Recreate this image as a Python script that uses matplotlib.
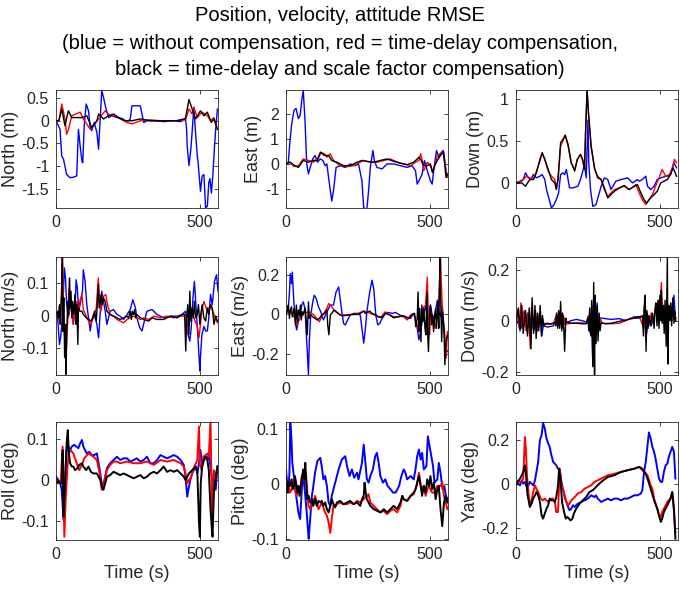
import numpy as np
import matplotlib
matplotlib.use("Agg")
import matplotlib.pyplot as plt
from matplotlib.ticker import FormatStrFormatter

plt.rcParams['font.family'] = ['Liberation Sans', 'DejaVu Sans']
plt.rcParams['axes.unicode_minus'] = False

# ---- data (time s, value) ----
north_pos_blue = [(0,0),(14,-0.19),(20,-0.78),(26,-0.85),(31,-1.0),(37,-1.19),(49,-1.26),(60,-1.25),(72,-1.22),
    (78,-0.19),(84,-0.56),(90,-0.89),(93,-0.93),(98,-0.11),(105,0.37),(113,0.22),(119,-0.15),(124,-0.22),(133,-0.04),
    (142,-0.26),(148,-0.63),(151,-0.26),(159,0.67),(165,0.52),(174,0.26),(183,0.07),(194,0.11),(212,0.07),(229,0.05),
    (241,0.0),(252,0.0),(258,0.04),(264,0.33),(293,0.33),(305,-0.04),(316,0.0),(340,0.0),(374,-0.02),(409,0.0),
    (433,-0.02),(450,0.04),(454,-0.19),(456,-0.56),(462,-0.99),(468,-0.67),(473,-0.26),(479,0.3),(485,-0.26),
    (491,-0.78),(494,-0.93),(502,-1.56),(508,-1.22),(514,-1.19),(520,-1.93),(526,-1.89),(531,-1.37),(535,-1.28),
    (540,-1.6),(545,-1.22),(551,-0.56),(555,-0.19),(561,0.26)]
north_pos_red = [(0,0),(10,0.0),(20,0.37),(31,0.05),(37,-0.3),(43,-0.2),(55,0.11),(84,0.19),(95,0.04),(119,-0.19),
    (130,-0.11),(148,0.04),(171,0.22),(188,0.11),(206,0.11),(223,0.04),(247,-0.04),(264,-0.07),(293,0.0),(328,0.02),
    (363,0.0),(409,0.0),(450,0.02),(462,0.26),(473,0.15),(479,0.3),(491,0.07),(508,0.19),(526,0.11),(537,0.0),
    (549,0.07),(561,-0.19)]
north_pos_black = [(0,0),(10,0.0),(20,0.26),(31,-0.11),(43,0.22),(55,0.07),(72,0.07),(90,0.07),(107,0.11),
    (124,-0.15),(142,0.0),(148,0.15),(165,0.04),(183,0.11),(200,0.15),(217,0.07),(241,0.0),(264,0.0),(293,0.04),
    (328,0.0),(374,0.0),(421,0.0),(450,0.05),(462,0.47),(473,0.26),(485,0.04),(502,0.22),(514,0.11),(526,0.19),
    (540,-0.04),(549,0.04),(561,-0.19)]

east_pos_blue = [(0,0),(8,0.07),(14,0.95),(20,1.62),(28,2.16),(35,2.23),(43,1.82),(49,1.95),(55,2.57),(60,2.95),
    (66,1.76),(72,0),(78,-0.4),(84,-0.14),(93,0.2),(101,0.34),(109,0.07),(119,0.2),(128,0.14),(136,-0.07),(142,0),
    (151,-0.81),(159,-1.49),(165,-1.08),(174,-0.14),(188,-0.07),(206,-0.14),(223,0),(241,-0.07),(252,0),(264,-0.68),
    (270,-1.76),(281,-1.82),(287,-1.08),(293,-0.14),(302,0.54),(307,0.14),(316,-0.14),(334,-0.2),(351,0),(374,0),
    (398,-0.07),(421,-0.14),(438,-0.07),(450,-0.27),(456,-0.81),(465,-0.61),(473,-0.41),(481,0.14),(491,-0.27),
    (502,-0.68),(508,-0.81),(514,-0.2),(523,0.54),(531,0.27),(540,0.47),(547,0.54),(552,0),(561,-0.54)]
east_pos_red = [(0,0),(14,0.07),(28,-0.11),(43,-0.07),(60,0.2),(78,0.14),(95,0.07),(109,0.2),(119,0.47),(133,0.41),
    (142,0.27),(154,0.41),(165,0.14),(188,-0.07),(212,-0.11),(235,-0.07),(258,0.07),(270,0.14),(293,0.07),(316,0.07),
    (340,0.14),(363,0.2),(386,0.07),(409,0),(433,-0.07),(450,0.07),(462,0.14),(468,0.41),(473,0.14),(479,-0.27),
    (491,0.07),(502,-0.07),(509,-0.34),(516,-0.14),(526,0.34),(535,0.41),(543,0.47),(549,0.41),(555,-0.2),(561,-0.54)]
east_pos_black = [(0,0),(14,0.07),(31,-0.07),(43,-0.14),(60,0.14),(78,0.07),(95,0.14),(109,0.14),(121,0.47),
    (133,0.34),(148,0.34),(159,0.14),(177,0.07),(200,-0.07),(223,-0.07),(247,0.07),(264,0.14),(281,0.1),(305,0.07),
    (328,0.14),(351,0.2),(374,0.11),(398,0.03),(421,-0.03),(444,0.07),(456,0.2),(462,0.27),(470,0.14),(479,-0.07),
    (491,-0.07),(502,0),(509,-0.34),(516,-0.07),(526,0.14),(537,0.34),(547,0.47),(551,0.07),(556,-0.54),(561,-0.41)]

down_pos_blue = [(0,0),(14,0.02),(25,0.04),(33,0.12),(43,0.06),(52,0.04),(60,0.1),(71,0.06),(83,0.08),(91,0.1),
    (100,0.04),(106,-0.08),(117,-0.22),(123,-0.3),(132,-0.26),(140,-0.2),(148,-0.12),(155,0.1),(163,0.12),(169,0.1),
    (175,0.16),(181,0.04),(186,-0.06),(198,-0.06),(215,-0.04),(224,0.04),(232,0.14),(238,0.22),(244,0.06),(250,0.75),
    (253,0.24),(259,-0.08),(267,-0.28),(278,-0.26),(296,-0.04),(307,0.06),(319,0.04),(330,-0.08),(347,0.02),(365,0.04),
    (388,0.06),(405,0),(422,0.04),(428,0.02),(439,0.04),(451,0.08),(457,-0.04),(468,-0.08),(480,-0.04),(491,0.04),
    (503,0.06),(520,0.08),(537,0.1),(549,0.24),(558,0.18)]
down_pos_red = [(0,0),(20,0.02),(37,0.08),(48,0.06),(60,0.04),(71,0.14),(83,0.26),(91,0.36),(100,0.28),(112,0.14),
    (123,0.08),(135,0.04),(140,-0.06),(146,0.04),(155,0.44),(163,0.5),(171,0.57),(181,0.44),(192,0.24),(204,0.16),
    (213,0.28),(224,0.34),(232,0.26),(238,0.16),(242,0.63),(247,1.11),(252,0.83),(261,0.44),(273,0.16),(284,0.08),
    (296,0.04),(307,-0.08),(319,-0.16),(330,-0.12),(342,-0.08),(359,-0.06),(376,-0.04),(393,-0.08),(411,-0.04),
    (416,-0.02),(428,-0.12),(439,-0.2),(451,-0.26),(462,-0.2),(474,-0.14),(485,-0.04),(497,0.06),(508,0.16),
    (520,0.08),(531,0.08),(543,0.18),(551,0.28),(558,0.24)]
down_pos_black = [(0,0),(20,0),(33,-0.04),(48,0.04),(60,0.04),(71,0.12),(83,0.28),(91,0.36),(100,0.28),(112,0.16),
    (123,0.04),(135,0),(140,-0.08),(146,0.04),(155,0.48),(163,0.52),(171,0.57),(181,0.46),(192,0.24),(204,0.14),
    (213,0.28),(224,0.34),(232,0.28),(238,0.16),(242,0.63),(247,1.11),(252,0.83),(261,0.44),(273,0.18),(284,0.06),
    (296,0.04),(307,-0.06),(319,-0.18),(330,-0.14),(342,-0.1),(359,-0.06),(376,-0.03),(393,-0.08),(411,-0.04),
    (422,-0.02),(434,-0.12),(445,-0.2),(454,-0.24),(468,-0.18),(480,-0.14),(491,-0.1),(503,0),(514,0.02),(526,0.04),
    (537,0.1),(546,0.18),(558,0.08)]

north_vel_blue = [(0,0.003),(5,-0.002),(8,-0.037),(12,-0.088),(16,-0.068),(20,-0.028),(23,0.023),(26,0.074),
    (29,0.145),(33,0.114),(37,0.033),(43,-0.007),(49,0.074),(55,0.013),(60,-0.027),(66,0.023),(70,0.109),(74,0.084),
    (79,0.013),(86,0.043),(92,0.074),(95,0.139),(101,0.104),(107,0.033),(113,-0.007),(119,-0.047),(124,-0.017),
    (130,0.003),(136,-0.007),(142,-0.027),(148,-0.068),(154,0.013),(159,0.074),(165,0.043),(171,0.013),(177,-0.027),
    (188,0.013),(200,0.018),(212,0.003),(223,-0.002),(235,-0.012),(247,0.003),(258,0.018),(267,0.048),(276,0.023),
    (281,-0.007),(291,-0.037),(299,-0.047),(307,-0.017),(316,0.013),(334,0.018),(351,0.003),(374,-0.007),
    (398,-0.002),(421,-0.002),(438,0.003),(450,0.013),(456,-0.027),(459,-0.058),(465,-0.078),(470,-0.037),
    (476,0.054),(481,0.104),(487,0.023),(494,-0.078),(500,-0.169),(502,-0.128),(507,-0.058),(514,-0.033),
    (520,-0.047),(526,-0.047),(531,-0.007),(537,0.064),(543,0.033),(551,0.104),(558,0.124),(563,0.074)]
north_vel_red = [(0,0.003),(8,-0.002),(14,-0.027),(20,0.074),(23,0.18),(26,0.043),(29,-0.047),(34,-0.138),
    (37,-0.088),(41,-0.007),(45,0.084),(49,0.033),(55,0.003),(60,-0.027),(66,0.023),(72,0.043),(78,0.013),(84,0.048),
    (90,0.064),(95,0.018),(105,-0.002),(113,-0.017),(121,-0.027),(130,-0.007),(140,0.023),(147,0.114),(151,0.058),
    (156,0.013),(165,0.058),(173,0.064),(179,0.033),(188,0.003),(200,-0.002),(212,-0.012),(223,-0.017),(235,-0.022),
    (247,-0.012),(258,-0.007),(270,-0.002),(281,-0.007),(293,-0.012),(305,-0.007),(322,-0.012),(340,-0.002),
    (363,-0.007),(386,-0.002),(409,-0.007),(433,-0.002),(444,-0.002),(450,-0.007),(456,-0.048),(462,-0.027),
    (468,0.003),(473,0.013),(481,-0.012),(491,-0.033),(497,-0.068),(502,-0.027),(508,0.023),(514,0.043),(526,0.013),
    (537,0.033),(549,0.003),(561,-0.022)]
north_vel_black = [(0,0.003),(5,0.013),(8,-0.007),(12,0.033),(15,-0.027),(19,0.064),(22,0.18),(24,-0.048),
    (27,0.054),(30,-0.128),(33,-0.027),(35,-0.179),(37,-0.058),(41,0.043),(44,0.003),(47,0.114),(49,0.023),(52,0.074),
    (55,-0.007),(58,0.043),(62,0.003),(66,0.064),(70,-0.027),(72,0.033),(76,-0.088),(78,0.023),(84,0.013),(90,0.013),
    (95,0.003),(105,-0.007),(113,-0.012),(121,-0.017),(128,-0.007),(134,0.013),(140,-0.017),(144,0.043),(147,0.094),
    (150,0.023),(154,0.043),(157,0.064),(160,0.033),(165,0.054),(171,0.043),(177,0.013),(188,0.003),(200,-0.002),
    (212,-0.007),(223,-0.012),(235,-0.007),(247,-0.002),(252,-0.007),(258,0.013),(262,-0.012),(265,0.013),(270,0.003),
    (273,0.018),(277,-0.007),(281,0.003),(293,-0.007),(305,-0.012),(322,-0.017),(334,-0.007),(351,-0.012),
    (374,-0.012),(398,-0.002),(421,-0.007),(438,0.003),(447,0.003),(451,-0.108),(454,-0.007),(458,0.033),(462,-0.058),
    (465,0.074),(469,-0.017),(473,0.023),(477,-0.007),(481,0.043),(485,-0.007),(491,0.003),(495,0.033),(500,-0.027),
    (503,0.003),(508,0.033),(514,-0.007),(520,-0.017),(526,0.023),(531,0.003),(537,0.033),(543,0.023),(549,-0.027),
    (555,-0.002),(561,-0.017)]

east_vel_blue = [(0,0.005),(5,0.013),(8,0.03),(12,0.113),(15,0.205),(19,0.155),(22,0.213),(26,0.097),(29,0.03),
    (34,-0.053),(37,-0.078),(43,-0.037),(49,-0.003),(55,0.047),(60,0.063),(66,0.03),(70,-0.087),(74,-0.187),
    (78,-0.303),(81,-0.137),(86,-0.003),(93,0.063),(98,0.097),(105,0.08),(113,0.038),(121,0.013),(130,-0.028),
    (142,0.013),(154,0.047),(165,0.047),(174,0.113),(183,0.138),(188,0.08),(194,0.013),(200,-0.045),(206,-0.053),
    (214,-0.028),(223,-0.003),(235,0.005),(247,0.005),(258,-0.003),(264,-0.07),(270,-0.145),(276,-0.07),(281,0.013),
    (291,0.113),(299,0.172),(305,0.13),(312,-0.003),(319,-0.053),(326,-0.045),(334,-0.02),(345,0.005),(357,0.01),
    (369,0.005),(380,0.01),(392,0),(409,-0.012),(433,-0.02),(444,0.005),(450,-0.028),(456,-0.07),(462,-0.128),
    (468,-0.087),(473,-0.037),(479,0.013),(485,0.038),(491,-0.012),(497,0.013),(502,0.047),(508,-0.003),(514,-0.02),
    (520,0.022),(526,0.072),(531,0.013),(537,-0.012),(543,0.047),(549,-0.087),(555,-0.17),(561,-0.187)]
east_vel_red = [(0,0.005),(8,0.01),(16,0.017),(23,0),(31,-0.02),(37,-0.053),(43,-0.037),(49,-0.012),(58,0.005),
    (70,0.01),(84,0.01),(95,0),(107,-0.02),(116,-0.037),(124,-0.012),(133,0.01),(142,0.03),(148,0.055),(154,0.047),
    (159,0.038),(167,0.022),(177,0.01),(188,0),(206,-0.003),(223,0),(241,0),(258,0.01),(270,0.017),(281,0.013),
    (293,0.005),(305,0),(316,-0.012),(330,-0.012),(345,0.013),(361,-0.003),(374,-0.012),(386,-0.012),(398,-0.007),
    (409,-0.012),(421,-0.028),(433,-0.003),(444,0.005),(450,-0.02),(456,-0.053),(462,-0.087),(468,-0.053),(473,0.013),
    (479,0.038),(485,0.047),(491,0.188),(494,0.03),(499,-0.103),(502,0.013),(508,-0.003),(514,-0.037),(520,-0.07),
    (526,0.013),(531,0.072),(537,0.288),(541,0.113),(545,-0.003),(551,-0.087),(557,-0.22),(561,-0.087)]
east_vel_black = [(0,0.005),(5,0.022),(8,0.047),(12,-0.02),(15,0.022),(19,0.038),(22,-0.012),(26,0.013),(29,0.03),
    (33,-0.053),(36,0.047),(40,-0.037),(43,0.022),(47,-0.003),(50,0.047),(53,-0.028),(57,0.013),(60,-0.003),
    (64,0.022),(67,0.03),(71,-0.045),(74,-0.103),(78,0.063),(81,-0.02),(86,-0.003),(93,-0.012),(101,-0.02),
    (109,-0.028),(116,-0.02),(124,-0.003),(134,0.005),(142,0.022),(145,-0.053),(149,-0.103),(154,-0.003),(159,0.005),
    (167,0.022),(177,0.01),(188,-0.003),(200,-0.007),(217,-0.003),(235,0),(252,0),(264,0.01),(270,0.017),(276,0.005),
    (281,0.01),(291,0.017),(299,0.005),(312,-0.003),(322,-0.012),(334,-0.017),(345,0.005),(361,-0.003),(374,-0.017),
    (392,-0.012),(409,-0.007),(427,-0.02),(438,0),(447,0.005),(451,-0.062),(456,-0.02),(459,0.113),(462,-0.087),
    (465,0.03),(469,-0.137),(472,0.047),(476,-0.037),(479,0.03),(483,-0.07),(486,-0.103),(490,0.113),(492,-0.087),
    (495,-0.187),(499,-0.003),(502,0.047),(506,-0.053),(509,-0.003),(513,-0.087),(516,-0.02),(520,0.03),(523,-0.07),
    (528,0.063),(531,-0.07),(535,0.288),(537,0.113),(541,-0.137),(544,0.013),(549,-0.07),(552,-0.253),(556,-0.137),
    (561,-0.103)]

down_vel_blue = [(0,0),(5,-0.01),(12,0.02),(18,-0.03),(25,0.03),(32,-0.02),(40,0.03),(47,-0.03),(55,0.04),
    (62,-0.04),(70,0.02),(78,-0.03),(85,0.02),(89,-0.06),(95,-0.02),(110,-0.025),(130,-0.02),(140,0.02),(147,-0.02),
    (152,0.03),(160,-0.03),(166,0.01),(172,-0.01),(190,0.0),(210,0.005),(230,0.0),(245,-0.005),(252,0.02),
    (258,-0.05),(263,0.03),(267,-0.18),(270,0.05),(275,-0.06),(282,0.07),(286,-0.03),(292,0.01),(300,0.01),
    (330,0.005),(360,0.008),(380,0.0),(410,0.015),(440,0.017),(444,-0.03),(449,0.04),(454,-0.05),(460,0.02),
    (470,-0.02),(480,0.02),(488,0.05),(495,-0.01),(502,0.04),(510,0.06),(517,-0.02),(523,0.05),(530,0.02),(537,0.06),
    (543,0.03),(549,0.1),(553,0.02),(555,0.01)]
down_vel_red = [(0,0),(5,0.03),(11,-0.03),(17,0.07),(22,-0.02),(28,0.04),(35,-0.04),(43,0.03),(50,-0.11),(54,0.05),
    (60,-0.03),(68,0.04),(74,-0.04),(82,0.03),(90,-0.02),(97,-0.01),(110,-0.015),(130,-0.012),(140,0.02),(146,-0.02),
    (153,0.03),(158,-0.02),(165,0.02),(170,-0.015),(190,-0.01),(220,-0.008),(245,-0.01),(252,0.02),(258,-0.04),
    (264,0.06),(268,-0.1),(272,0.08),(276,-0.06),(281,0.04),(286,-0.04),(292,0.01),(300,-0.01),(330,-0.012),
    (360,-0.01),(400,0.01),(430,0.012),(441,-0.02),(447,0.05),(451,-0.08),(456,0.03),(462,-0.02),(470,0.03),
    (478,-0.01),(485,0.06),(490,0.02),(496,0.08),(501,0.03),(505,0.15),(509,0.04),(514,0.06),(520,-0.02),(525,0.09),
    (530,0.0),(536,0.06),(541,0.0),(546,0.05),(552,0.02),(555,0.01)]
down_vel_black = [(0,0),(2,0.01),(8,0.05),(14,-0.04),(20,0.06),(25,-0.05),(33,0.04),(40,-0.06),(46,0.05),
    (52,-0.11),(56,0.09),(61,-0.05),(66,0.06),(70,-0.07),(75,0.03),(79,-0.04),(84,0.06),(89,-0.06),(92,0.02),
    (97,-0.02),(105,-0.01),(120,-0.012),(135,-0.008),(138,-0.02),(141,0.03),(145,-0.03),(148,0.04),(152,-0.03),
    (155,0.075),(159,-0.04),(162,0.03),(166,-0.03),(169,-0.12),(173,0.01),(176,-0.005),(190,-0.01),(210,-0.01),
    (230,-0.012),(245,-0.012),(250,0.01),(253,-0.04),(256,0.05),(260,-0.06),(263,0.08),(267,-0.18),(270,0.15),
    (273,-0.213),(275,0.10),(278,-0.09),(282,0.06),(285,-0.08),(289,0.03),(292,-0.04),(296,-0.008),(310,-0.012),
    (330,-0.01),(350,-0.005),(370,0.0),(390,0.005),(410,0.01),(430,0.012),(439,0.02),(443,-0.06),(445,0.05),
    (449,0.10),(452,-0.12),(455,0.04),(459,-0.03),(462,0.02),(468,-0.02),(474,0.03),(480,-0.03),(483,0.04),(486,0.07),
    (490,-0.02),(493,0.08),(497,-0.03),(500,0.10),(503,0.0),(505,0.12),(508,-0.01),(512,0.06),(515,-0.05),(518,0.08),
    (522,-0.10),(526,0.25),(528,-0.17),(531,0.06),(535,0.0),(538,0.07),(541,-0.02),(545,0.09),(549,-0.01),(552,0.04),
    (555,0.0)]

roll_blue = [(0,0.008),(8,0),(14,-0.008),(20,-0.024),(26,-0.098),(29,-0.041),(34,0.033),(37,0.073),(43,0.082),
    (49,0.073),(55,0.082),(63,0.086),(70,0.082),(78,0.078),(84,0.09),(90,0.098),(95,0.082),(101,0.073),(107,0.065),
    (116,0.069),(124,0.061),(133,0.061),(142,0.065),(148,0.041),(154,0.016),(159,-0.008),(165,-0.012),(171,0.008),
    (177,0.029),(188,0.041),(200,0.049),(212,0.057),(223,0.049),(235,0.053),(247,0.053),(258,0.045),(270,0.049),
    (281,0.053),(293,0.045),(305,0.049),(316,0.057),(328,0.041),(340,0.041),(351,0.049),(363,0.061),(374,0.057),
    (386,0.053),(398,0.057),(409,0.061),(421,0.057),(433,0.049),(444,0.037),(450,0.008),(456,-0.041),(462,-0.016),
    (468,0.004),(473,0.016),(479,0.024),(485,0.033),(491,0.016),(497,0.041),(502,0.073),(508,0.041),(514,0.049),
    (520,0.057),(526,0.049),(531,0.065),(537,0.033),(543,0),(549,-0.008),(555,-0.024),(561,0.033)]
roll_red = [(0,0),(8,-0.004),(16,-0.008),(23,0.082),(26,-0.033),(29,-0.139),(34,-0.041),(40,0.033),(44,0.065),
    (51,0.073),(60,0.065),(72,0.041),(81,0.024),(90,0.037),(98,0.053),(113,0.065),(121,0.061),(130,0.057),(142,0.049),
    (148,0.029),(154,0.008),(159,-0.024),(165,-0.016),(171,0.008),(177,0.024),(188,0.037),(200,0.045),(212,0.045),
    (223,0.041),(247,0.045),(270,0.041),(293,0.041),(316,0.045),(340,0.037),(363,0.049),(386,0.045),(409,0.049),
    (433,0.041),(444,0.033),(450,0.016),(456,-0.008),(462,0),(468,0.004),(473,0.016),(479,0.029),(491,0.049),
    (497,0.131),(500,0.041),(506,0.024),(512,0.057),(520,0.061),(526,0.065),(531,0.057),(537,0.147),(541,-0.033),
    (544,-0.09),(549,0.024),(555,0.008),(561,0.008)]
roll_black = [(0,0),(5,-0.008),(9,-0.004),(14,-0.008),(20,-0.008),(23,0.073),(26,-0.09),(29,-0.049),(34,0.041),
    (37,0.09),(41,0.122),(44,0.073),(49,0.041),(55,0.033),(60,0.033),(66,0.024),(74,0.029),(81,0.037),(90,0.041),
    (95,0.033),(105,0.024),(113,0.033),(121,0.02),(130,0.016),(142,0.016),(154,0),(159,-0.016),(165,-0.024),
    (171,-0.008),(177,0.008),(188,0.012),(200,0.02),(212,0.016),(223,0.012),(235,0.016),(247,0.012),(258,0.008),
    (270,0.004),(281,0.008),(293,0.012),(305,0.004),(316,0.008),(328,0.016),(340,0.02),(351,0.016),(363,0.024),
    (374,0.033),(386,0.02),(398,0.024),(409,0.02),(421,0.024),(433,0.016),(444,0.008),(450,0),(456,0.008),(462,0.016),
    (473,0.024),(485,0.033),(491,0.024),(497,-0.106),(500,-0.139),(503,-0.008),(508,0.033),(514,0.049),(520,0.057),
    (526,0.049),(531,0.024),(537,-0.073),(541,-0.114),(544,-0.139),(549,-0.024),(555,0.008),(561,0.033)]

pitch_blue = [(0,0.026),(5,-0.004),(8,-0.016),(12,0.02),(15,0.11),(19,0.08),(22,0.038),(26,0.02),(31,-0.004),
    (37,-0.028),(43,-0.052),(49,-0.064),(55,-0.01),(60,0.02),(66,-0.016),(72,-0.052),(76,-0.082),(79,-0.1),
    (84,-0.064),(90,-0.022),(95,-0.004),(101,0.02),(109,0.041),(119,0.047),(124,0.032),(130,0.008),(136,0.014),
    (142,-0.004),(148,-0.034),(154,-0.04),(159,-0.022),(165,-0.01),(174,0.008),(183,0.026),(194,0.044),(206,0.05),
    (212,0.032),(221,0.014),(229,0.026),(237,0.011),(247,0.02),(252,0.008),(258,0.023),(264,0.038),(270,0.071),
    (276,0.038),(281,0.008),(287,0.002),(293,0.014),(302,0.026),(310,0.05),(316,0.056),(322,0.038),(328,0.014),
    (337,0.002),(345,0.008),(353,-0.004),(363,-0.01),(372,-0.016),(381,-0.016),(393,-0.004),(401,0.014),(409,0.026),
    (415,0.02),(421,0.008),(433,0.014),(444,0.008),(450,0.026),(456,0.05),(462,0.062),(468,0.044),(473,0.056),
    (479,0.026),(488,0.032),(493,0.086),(499,0.068),(505,0.05),(511,0.032),(516,0.002),(526,0.008),(531,0.038),
    (537,0.02),(544,-0.01),(550,-0.004),(556,-0.022),(561,-0.028)]
pitch_red = [(0,0.002),(5,-0.01),(9,-0.004),(14,-0.016),(20,-0.01),(26,0.008),(31,-0.01),(37,-0.022),(43,-0.004),
    (49,-0.016),(55,0.014),(60,0.008),(66,0.026),(70,0.014),(74,-0.016),(78,-0.04),(84,-0.046),(90,-0.04),(95,-0.034),
    (101,-0.022),(107,-0.034),(113,-0.046),(119,-0.04),(124,-0.034),(130,-0.043),(136,-0.052),(142,-0.058),
    (148,-0.07),(154,-0.089),(159,-0.064),(165,-0.04),(171,-0.04),(177,-0.037),(188,-0.034),(200,-0.037),
    (212,-0.037),(223,-0.034),(235,-0.037),(247,-0.031),(258,-0.034),(270,-0.028),(281,-0.022),(287,-0.019),
    (293,-0.034),(305,-0.04),(316,-0.046),(328,-0.052),(340,-0.049),(351,-0.055),(363,-0.049),(374,-0.046),
    (386,-0.052),(398,-0.04),(404,-0.022),(409,-0.028),(421,-0.031),(433,-0.022),(444,-0.019),(454,-0.004),(462,0.02),
    (468,-0.002),(473,-0.01),(479,-0.004),(485,-0.022),(491,-0.01),(497,-0.004),(502,-0.01),(508,-0.016),
    (516,-0.016),(526,-0.004),(537,-0.004),(543,0.002),(549,-0.022),(555,-0.034),(561,-0.046)]
pitch_black = [(0,0.008),(5,-0.016),(9,0.002),(14,-0.004),(19,0.008),(23,-0.01),(28,-0.004),(31,0.014),(35,0.002),
    (40,-0.016),(43,-0.004),(47,-0.022),(51,-0.004),(56,0.014),(60,0.026),(64,0.008),(67,0.038),(71,-0.004),
    (74,-0.028),(79,-0.022),(84,-0.034),(90,-0.028),(95,-0.04),(101,-0.028),(107,-0.04),(113,-0.031),(119,-0.034),
    (124,-0.031),(130,-0.04),(136,-0.034),(142,-0.046),(148,-0.052),(154,-0.04),(159,-0.028),(165,-0.037),
    (171,-0.043),(177,-0.034),(188,-0.031),(200,-0.037),(212,-0.034),(223,-0.031),(235,-0.037),(247,-0.034),
    (258,-0.04),(264,-0.028),(270,-0.022),(273,0.002),(277,-0.016),(281,-0.028),(293,-0.04),(305,-0.046),
    (316,-0.049),(328,-0.052),(340,-0.046),(351,-0.052),(363,-0.046),(374,-0.04),(386,-0.046),(398,-0.034),
    (404,-0.022),(409,-0.028),(421,-0.031),(433,-0.022),(444,-0.016),(450,-0.01),(456,0.002),(462,0.014),
    (468,-0.004),(473,-0.022),(479,-0.004),(485,-0.016),(491,0.008),(497,-0.004),(502,0.014),(508,-0.01),(514,0.002),
    (520,-0.028),(526,-0.01),(531,-0.004),(537,-0.046),(543,-0.077),(549,-0.034),(555,-0.022),(561,-0.034)]

yaw_blue = [(0,0),(8,0.003),(14,-0.005),(20,0.018),(25,0.003),(31,0.011),(37,-0.012),(43,-0.005),(48,0.011),
    (54,0.003),(60,-0.005),(66,0.018),(71,0.056),(77,0.102),(83,0.2),(89,0.223),(94,0.279),(100,0.253),(106,0.208),
    (112,0.185),(117,0.17),(123,0.132),(129,0.102),(135,0.094),(140,0.086),(146,0.071),(152,0.064),(158,0.011),
    (163,-0.02),(169,-0.058),(175,-0.08),(181,-0.103),(186,-0.118),(192,-0.111),(198,-0.095),(204,-0.103),
    (209,-0.095),(215,-0.088),(227,-0.08),(238,-0.073),(250,-0.065),(261,-0.05),(273,-0.058),(278,-0.05),(284,-0.065),
    (296,-0.08),(307,-0.073),(319,-0.065),(330,-0.073),(342,-0.065),(353,-0.065),(365,-0.073),(376,-0.065),
    (388,-0.065),(399,-0.058),(411,-0.05),(422,-0.05),(434,-0.042),(439,-0.027),(445,0.056),(451,0.102),(457,0.176),
    (462,0.236),(468,0.208),(474,0.17),(480,0.147),(485,0.117),(491,0.071),(497,0.026),(503,0.011),(508,0.011),
    (514,0.056),(520,0.086),(526,0.094),(531,0.124),(537,0.147),(543,0.17),(549,0.147),(554,0.026)]
yaw_red = [(0,0.003),(8,0.018),(14,0.011),(20,0.011),(25,0.026),(31,0.215),(35,0.147),(38,0.041),(43,-0.035),
    (48,-0.095),(54,-0.073),(60,-0.035),(66,-0.005),(71,-0.02),(77,-0.035),(86,-0.065),(94,-0.073),(100,-0.065),
    (106,-0.073),(112,-0.08),(117,-0.073),(123,-0.065),(129,-0.065),(135,-0.08),(140,-0.126),(146,-0.126),(152,0.071),
    (158,-0.005),(163,-0.02),(169,-0.05),(175,-0.08),(181,-0.095),(186,-0.088),(192,-0.073),(204,-0.058),(215,-0.042),
    (227,-0.035),(238,-0.02),(250,-0.012),(261,-0.005),(273,0.011),(296,0.026),(319,0.041),(342,0.048),(365,0.056),
    (388,0.064),(411,0.071),(428,0.079),(439,0.064),(451,0.048),(457,0.041),(468,-0.005),(474,-0.02),(480,-0.065),
    (485,-0.088),(491,-0.111),(497,-0.141),(503,-0.148),(508,-0.126),(514,-0.111),(526,-0.08),(537,-0.065),
    (543,-0.035),(549,-0.126),(554,-0.217)]
yaw_black = [(0,-0.005),(6,0.011),(14,0.026),(20,0.041),(25,0.056),(31,0.086),(35,0.041),(40,-0.05),(45,-0.08),
    (48,-0.103),(54,-0.088),(60,-0.065),(66,-0.05),(71,-0.035),(77,-0.05),(83,-0.08),(89,-0.141),(94,-0.156),
    (100,-0.133),(106,-0.111),(112,-0.095),(117,-0.065),(123,-0.073),(129,-0.073),(135,-0.08),(140,-0.058),
    (146,-0.005),(150,0.071),(155,0.011),(160,-0.08),(167,-0.126),(173,-0.156),(178,-0.148),(184,-0.156),(190,-0.164),
    (196,-0.156),(201,-0.133),(209,-0.111),(221,-0.088),(232,-0.073),(244,-0.058),(255,-0.035),(267,-0.027),
    (278,-0.012),(296,0.011),(319,0.033),(342,0.041),(365,0.056),(388,0.064),(411,0.071),(428,0.079),(439,0.071),
    (451,0.048),(457,0.026),(468,-0.02),(480,-0.073),(491,-0.111),(497,-0.141),(503,-0.171),(508,-0.156),(514,-0.126),
    (526,-0.095),(537,-0.065),(543,-0.035),(549,-0.111),(554,-0.247)]

ylabels = ['North (m)', 'East (m)', 'Down (m)',
           'North (m/s)', 'East (m/s)', 'Down (m/s)',
           'Roll (deg)', 'Pitch (deg)', 'Yaw (deg)']
ylims = [(-1.93, 0.68), (-1.77, 2.97), (-0.30, 1.11),
         (-0.181, 0.178), (-0.305, 0.289), (-0.213, 0.25),
         (-0.147, 0.142), (-0.102, 0.112), (-0.253, 0.283)]
yticks = [[-1.5, -1, -0.5, 0, 0.5], [-1, 0, 1, 2], [0, 0.5, 1],
          [-0.1, 0, 0.1], [-0.2, 0, 0.2], [-0.2, 0, 0.2],
          [-0.1, 0, 0.1], [-0.1, 0, 0.1], [-0.2, 0, 0.2]]
series = [(north_pos_blue, north_pos_red, north_pos_black),
          (east_pos_blue, east_pos_red, east_pos_black),
          (down_pos_blue, down_pos_red, down_pos_black),
          (north_vel_blue, north_vel_red, north_vel_black),
          (east_vel_blue, east_vel_red, east_vel_black),
          (down_vel_blue, down_vel_red, down_vel_black),
          (roll_blue, roll_red, roll_black),
          (pitch_blue, pitch_red, pitch_black),
          (yaw_blue, yaw_red, yaw_black)]

fig = plt.figure(figsize=(6.8, 5.92), dpi=100)
fig.text(0.5, 0.974, 'Position, velocity, attitude RMSE', ha='center', va='center', fontsize=14.5)
fig.text(0.5, 0.927, '(blue = without compensation, red = time-delay compensation,', ha='center', va='center', fontsize=14.5)
fig.text(0.5, 0.882, 'black = time-delay and scale factor compensation)', ha='center', va='center', fontsize=14.5)

lefts = [56, 286, 516]
tops = [90, 257, 422]
gray = '#262626'
for k in range(9):
    r, c = divmod(k, 3)
    ax = fig.add_axes([lefts[c] / 680, 1 - (tops[r] + 118) / 592, 162 / 680, 118 / 592])
    lw = 1.4 if r == 2 else 1.0
    for pts, col in zip(series[k], ['#0000ff', '#ff0000', 'k']):
        t, v = zip(*pts)
        ax.plot(t, v, color=col, lw=lw)
    ax.set_xlim(0, 563)
    ax.set_ylim(*ylims[k])
    ax.set_xticks([0, 500])
    ax.set_yticks(yticks[k])
    ax.yaxis.set_major_formatter(FormatStrFormatter('%g'))
    ax.tick_params(direction='in', top=True, right=True, length=3, width=0.6,
                   labelsize=11.5, colors=gray, labelcolor=gray, pad=5)
    for s in ax.spines.values():
        s.set_color(gray)
        s.set_linewidth(0.6)
    ax.set_ylabel(ylabels[k], fontsize=13, color=gray, labelpad=2)
    if r == 2:
        ax.set_xlabel('Time (s)', fontsize=13, color=gray, labelpad=2)

fig.savefig('out.png', dpi=100)
